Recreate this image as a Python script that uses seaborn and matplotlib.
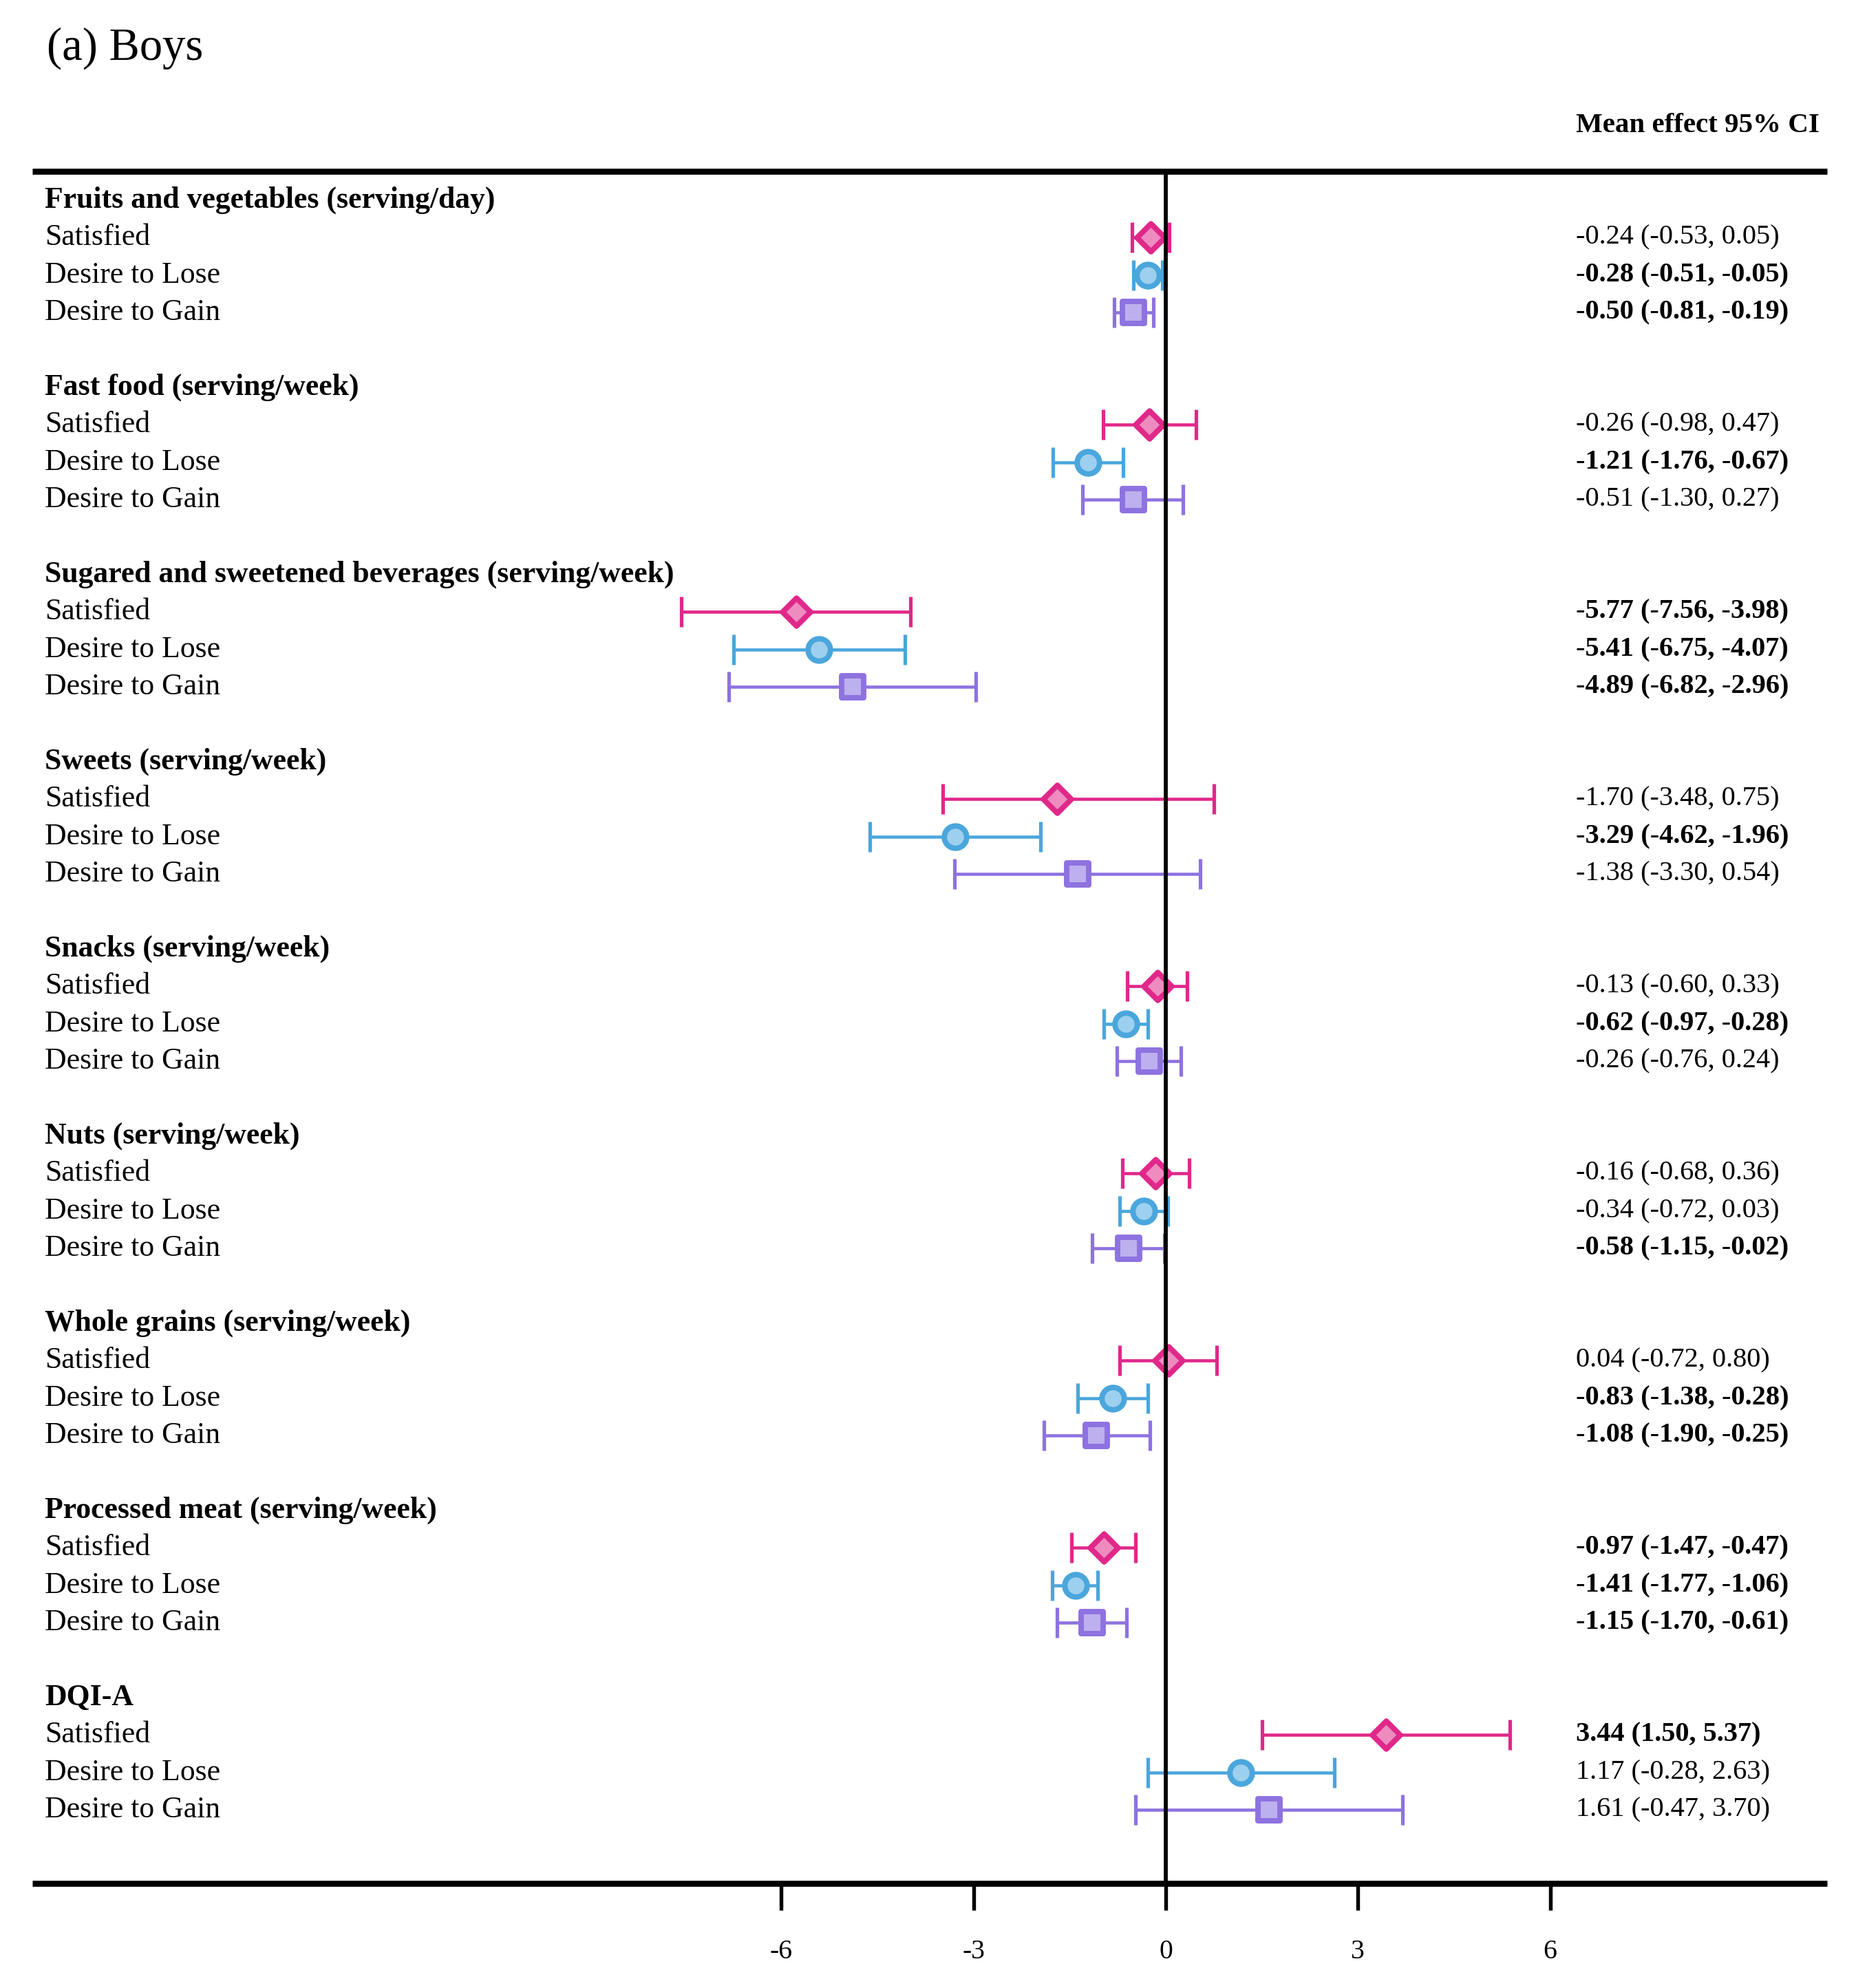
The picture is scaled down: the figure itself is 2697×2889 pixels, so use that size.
import matplotlib
matplotlib.use("Agg")
import matplotlib.pyplot as plt
import seaborn as sns
import pandas as pd
import numpy as np

# ---------------- data ----------------
outcomes = [
    "Fruits and vegetables (serving/day)",
    "Fast food (serving/week)",
    "Sugared and sweetened beverages (serving/week)",
    "Sweets (serving/week)",
    "Snacks (serving/week)",
    "Nuts (serving/week)",
    "Whole grains (serving/week)",
    "Processed meat (serving/week)",
    "DQI-A",
]
groups = ["Satisfied", "Desire to Lose", "Desire to Gain"]

satisfied_mean = [-0.24, -0.26, -5.77, -1.70, -0.13, -0.16, 0.04, -0.97, 3.44]
satisfied_lo   = [-0.53, -0.98, -7.56, -3.48, -0.60, -0.68, -0.72, -1.47, 1.50]
satisfied_hi   = [0.05, 0.47, -3.98, 0.75, 0.33, 0.36, 0.80, -0.47, 5.37]
satisfied_bold = [False, False, True, False, False, False, False, True, True]

lose_mean = [-0.28, -1.21, -5.41, -3.29, -0.62, -0.34, -0.83, -1.41, 1.17]
lose_lo   = [-0.51, -1.76, -6.75, -4.62, -0.97, -0.72, -1.38, -1.77, -0.28]
lose_hi   = [-0.05, -0.67, -4.07, -1.96, -0.28, 0.03, -0.28, -1.06, 2.63]
lose_bold = [True, True, True, True, True, False, True, True, False]

gain_mean = [-0.50, -0.51, -4.89, -1.38, -0.26, -0.58, -1.08, -1.15, 1.61]
gain_lo   = [-0.81, -1.30, -6.82, -3.30, -0.76, -1.15, -1.90, -1.70, -0.47]
gain_hi   = [-0.19, 0.27, -2.96, 0.54, 0.24, -0.02, -0.25, -0.61, 3.70]
gain_bold = [True, False, True, False, False, True, True, True, False]

x_ticks = [-6, -3, 0, 3, 6]
title_text = "(a) Boys"
column_header = "Mean effect 95% CI"

# ---------------- table ----------------
rows = []
series = [
    (satisfied_mean, satisfied_lo, satisfied_hi, satisfied_bold),
    (lose_mean, lose_lo, lose_hi, lose_bold),
    (gain_mean, gain_lo, gain_hi, gain_bold),
]
for i, out in enumerate(outcomes):
    for j, g in enumerate(groups):
        m, lo, hi, b = series[j]
        rows.append(dict(outcome=out, group=g, row=i * 5 + 1 + j,
                         mean=m[i], lo=lo[i], hi=hi[i], bold=b[i]))
df = pd.DataFrame(rows)

# ---------------- style ----------------
sns.set_theme(style="white")
plt.rcParams["font.family"] = ["Liberation Serif", "DejaVu Serif"]

edge_cols = {"Satisfied": "#E0288A", "Desire to Lose": "#4AA6DC", "Desire to Gain": "#8E72E0"}
fill_cols = {"Satisfied": "#EE8CC0", "Desire to Lose": "#9DD0EE", "Desire to Gain": "#BDB0EE"}
marks = {"Satisfied": "D", "Desire to Lose": "o", "Desire to Gain": "s"}
msize = {"Satisfied": 6.9, "Desire to Lose": 7.8, "Desire to Gain": 7.6}

W, H, DPI = 2697, 2889, 300
fig = plt.figure(figsize=(W / DPI, H / DPI), dpi=DPI)
ax = fig.add_axes([0, 0, 1, 1])

px_per_unit = 93.1
x0_px = 1694
row0_px = 291
row_px = 54.4
ax.set_xlim(-x0_px / px_per_unit, (W - x0_px) / px_per_unit)
ax.set_ylim((H - row0_px) / row_px, -row0_px / row_px)
ax.patch.set_alpha(0)

top_row = (249 - row0_px) / row_px
bot_row = (2737 - row0_px) / row_px

# error bars and markers
for g in groups:
    sub = df[df.group == g]
    ax.errorbar(sub["mean"], sub["row"],
                xerr=[sub["mean"] - sub["lo"], sub["hi"] - sub["mean"]],
                fmt="none", ecolor=edge_cols[g], elinewidth=1.1,
                capsize=5.3, capthick=1.25, zorder=3)
    sns.scatterplot(data=sub, x="mean", y="row", ax=ax, marker=marks[g],
                    color=fill_cols[g], edgecolor=edge_cols[g],
                    s=msize[g] ** 2, linewidth=1.9, zorder=4, legend=False)

# reference lines
ax.vlines(0, top_row, bot_row, color="black", lw=1.4, zorder=5)
xl = ax.get_xlim()
span = xl[1] - xl[0]
x_left = xl[0] + 0.0175 * span
x_right = xl[0] + 0.9845 * span
ax.hlines(top_row, x_left, x_right, color="black", lw=2.1, zorder=5)

# bottom axis as spine with ticks
for s in ["top", "right", "left"]:
    ax.spines[s].set_visible(False)
ax.spines["bottom"].set_position(("data", bot_row))
ax.spines["bottom"].set_bounds(x_left, x_right)
ax.spines["bottom"].set_linewidth(2.1)
ax.spines["bottom"].set_capstyle("butt")
ax.spines["bottom"].set_color("black")
ax.spines["bottom"].set_zorder(5)
ax.set_xticks(x_ticks)
ax.set_xticklabels([str(t) for t in x_ticks])
ax.tick_params(axis="x", direction="out", length=9.4, width=1.3, color="black",
               pad=10, labelsize=9.5, labelcolor="black", bottom=True)
ax.set_yticks([])
ax.set_xlabel("")
ax.set_ylabel("")

# text
trans = ax.get_yaxis_transform()  # x in axes fraction, y in data
label_x = 65 / W
value_x = 2290 / W
ax.text(68 / W, (70 - row0_px) / row_px, title_text, transform=trans,
        fontsize=16, ha="left", va="center", color="black")
ax.text(value_x, (182 - row0_px) / row_px, column_header, transform=trans,
        fontsize=9.85, fontweight="bold", ha="left", va="center", color="black")

for i, out in enumerate(outcomes):
    ax.text(label_x, i * 5, out, transform=trans, fontsize=10.5,
            fontweight="bold", ha="left", va="center", color="black")
for _, r in df.iterrows():
    ax.text(label_x, r["row"], r["group"], transform=trans, fontsize=10.5,
            ha="left", va="center", color="black")
    txt = f"{r['mean']:.2f} ({r['lo']:.2f}, {r['hi']:.2f})"
    ax.text(value_x, r["row"], txt, transform=trans, fontsize=9.7,
            fontweight="bold" if r["bold"] else "normal",
            ha="left", va="center", color="black")

fig.savefig("out.png", dpi=DPI, facecolor="white")
